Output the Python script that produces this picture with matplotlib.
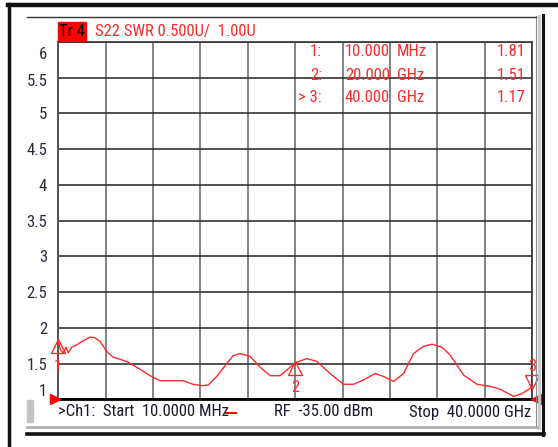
import numpy as np
import matplotlib
matplotlib.use('Agg')
import matplotlib.pyplot as plt
from matplotlib import font_manager
from matplotlib.lines import Line2D
from matplotlib.patches import Rectangle
import matplotlib.transforms as mtrans

freq_ghz = [0.01, 0.20, 0.43, 0.66, 0.85, 1.14, 1.56, 2.12, 2.69, 3.11, 3.53, 4.10, 4.63,
            5.23, 5.90, 6.91, 7.76, 8.60, 9.70, 10.54, 11.39, 12.12, 12.66, 13.39, 14.23,
            14.77, 15.36, 16.20, 17.05, 17.90, 18.74, 19.44, 20.00, 20.99, 21.84, 22.96,
            24.08, 24.93, 25.77, 26.76, 27.46, 28.31, 29.15, 30.00, 30.84, 31.55, 32.39,
            33.09, 34.22, 35.35, 36.48, 37.32, 38.45, 39.15, 40.00]
swr = [1.81, 1.69, 1.65, 1.73, 1.65, 1.73, 1.76, 1.82, 1.87, 1.86, 1.81, 1.67, 1.59,
       1.56, 1.52, 1.42, 1.33, 1.26, 1.26, 1.26, 1.21, 1.19, 1.20, 1.32, 1.50,
       1.61, 1.64, 1.60, 1.45, 1.33, 1.33, 1.43, 1.51, 1.57, 1.53, 1.36,
       1.21, 1.21, 1.27, 1.36, 1.32, 1.25, 1.36, 1.64, 1.74, 1.77, 1.73,
       1.62, 1.34, 1.21, 1.18, 1.14, 1.04, 1.08, 1.17]

yticks = [1, 1.5, 2, 2.5, 3, 3.5, 4, 4.5, 5, 5.5, 6]
ytick_labels = ['1', '1.5', '2', '2.5', '3', '3.5', '4', '4.5', '5', '5.5', '6']

marker_ids = ['1', '2', '3']
marker_freq = [0.01, 20.0, 40.0]
marker_swr = [1.81, 1.51, 1.17]
marker_rows = [('1:', '10.000', 'MHz', '1.81'),
               ('2:', '20.000', 'GHz', '1.51'),
               ('> 3:', '40.000', 'GHz', '1.17')]

# pick a narrow sans font if one is installed (screen font is Arial Narrow like)
installed = {f.name for f in font_manager.fontManager.ttflist}
narrow = [n for n in ['Liberation Sans Narrow', 'Roboto Condensed', 'DejaVu Sans Condensed',
                      'Open Sans Condensed'] if n in installed]
if narrow:
    plt.rcParams['font.family'] = [narrow[0], 'DejaVu Sans']
    FS = 12
    if narrow[0] == 'DejaVu Sans Condensed':
        FS = 11
else:
    plt.rcParams['font.family'] = ['Liberation Sans', 'DejaVu Sans']
    FS = 10.5

W, H = 558, 447
fig = plt.figure(figsize=(W / 100, H / 100), dpi=100)
fig.patch.set_facecolor('white')


def fx(x):
    return x / W


def fy(y):
    return 1 - y / H


def hline(y, x0, x1, color, lw):
    fig.add_artist(Line2D([fx(x0), fx(x1)], [fy(y), fy(y)], color=color, lw=lw,
                          transform=fig.transFigure))


def vline(x, y0, y1, color, lw):
    fig.add_artist(Line2D([fx(x), fx(x)], [fy(y0), fy(y1)], color=color, lw=lw,
                          transform=fig.transFigure))


# outer frame
hline(5, 8, 556, '#111111', 3.2)
vline(8.5, 4, 447, '#111111', 2.5)
vline(543, 15, 435, '#111111', 2.2)
vline(538.5, 16, 428, '#c8c8c8', 2.0)
vline(536, 16, 428, '#888888', 0.8)
hline(17, 27, 536, '#333333', 1.0)
hline(427, 27, 537, '#b0b0b0', 2.0)
hline(433.5, 27, 544, '#111111', 2.6)
fig.add_artist(Rectangle((fx(27), fy(422)), fx(6), 22 / H, color='#c4c4c4',
                         transform=fig.transFigure))

# plot area
left, right, top, bottom = 58.3, 532, 42, 399.3
ax = fig.add_axes([fx(left), fy(bottom), (right - left) / W, (bottom - top) / H])
ax.set_xlim(0.01, 40.0)
ax.set_ylim(1, 6)

xgrid = np.linspace(0.01, 40.0, 11)
ax.set_xticks(xgrid)
ax.set_xticklabels([])
ax.tick_params(axis='x', length=0)
ax.set_yticks(yticks)
ax.set_yticklabels(ytick_labels, fontsize=FS, color='#2a2a3a')
ax.tick_params(axis='y', length=0, pad=8)
for lbl, val in zip(ax.get_yticklabels(), yticks):
    if val == 1:
        lbl.set_transform(lbl.get_transform() + mtrans.ScaledTranslation(0, 9 / 100, fig.dpi_scale_trans))
    elif val == 6:
        lbl.set_transform(lbl.get_transform() + mtrans.ScaledTranslation(0, -11 / 100, fig.dpi_scale_trans))
    elif val == 5.5:
        lbl.set_transform(lbl.get_transform() + mtrans.ScaledTranslation(0, -2 / 100, fig.dpi_scale_trans))

ax.grid(True, axis='x', color='#6e6e6e', lw=1.2)
ax.grid(True, axis='y', color='#333333', lw=1.2)
for side in ['top', 'right']:
    ax.spines[side].set_color('#333333')
    ax.spines[side].set_linewidth(1.2)
ax.spines['left'].set_color('#555555')
ax.spines['left'].set_linewidth(1.4)
ax.spines['bottom'].set_color('#000000')
ax.spines['bottom'].set_linewidth(2.0)

ax.plot(freq_ghz, swr, color='#ff2a2a', lw=1.0, clip_on=False, zorder=5)

# markers
for mid, mf, mv in zip(marker_ids, marker_freq, marker_swr):
    if mid == '3':
        ax.plot(mf, mv, marker='v', ms=10, mfc='none', mec='#ff2a2a', mew=1.0,
                clip_on=False, zorder=6,
                transform=ax.transData + mtrans.ScaledTranslation(0, 5 / 100, fig.dpi_scale_trans))
        ax.annotate(mid, (mf, mv), xytext=(0, 15), textcoords='offset points', ha='center',
                    va='center', color='#ff2a2a', fontsize=FS, annotation_clip=False)
    else:
        ax.plot(mf, mv, marker='^', ms=10, mfc='none', mec='#ff2a2a', mew=1.0,
                clip_on=False, zorder=6,
                transform=ax.transData + mtrans.ScaledTranslation(0, -5 / 100, fig.dpi_scale_trans))
        ax.annotate(mid, (mf, mv), xytext=(0, -18), textcoords='offset points', ha='center',
                    va='center', color='#ff2a2a', fontsize=FS, annotation_clip=False)

# reference level arrows
ax.plot(0.01, 1, marker='>', ms=7, color='#ff0000', clip_on=False, zorder=7,
        transform=ax.transData + mtrans.ScaledTranslation(-3 / 100, 0, fig.dpi_scale_trans))
ax.plot(40.0, 1, marker='<', ms=7, color='#ff0000', clip_on=False, zorder=7,
        transform=ax.transData + mtrans.ScaledTranslation(4 / 100, 0, fig.dpi_scale_trans))

# header
fig.add_artist(Rectangle((fx(58), fy(41)), fx(28), 19 / H, color='#ff0000',
                         transform=fig.transFigure))
fig.text(fx(72), fy(31.5), 'Tr 4', fontsize=FS, color='#000000', va='center', ha='center')
fig.text(fx(95), fy(31.5), 'S22 SWR 0.500U/  1.00U', fontsize=FS, color='#ff2a2a', va='center')

# marker table
row_y = [52, 75, 98]
for (lab, num, unit, val), yy in zip(marker_rows, row_y):
    fig.text(fx(322), fy(yy), lab, fontsize=FS, color='#ff2a2a', ha='right', va='center')
    fig.text(fx(390), fy(yy), num, fontsize=FS, color='#ff2a2a', ha='right', va='center')
    fig.text(fx(397), fy(yy), unit, fontsize=FS, color='#ff2a2a', ha='left', va='center')
    fig.text(fx(526), fy(yy), val, fontsize=FS, color='#ff2a2a', ha='right', va='center')

# footer
fig.text(fx(58), fy(412), '>Ch1:  Start  10.0000 MHz', fontsize=FS, color='#1a1a2e', va='center')
hline(413, 226, 236, '#ff0000', 1.5)
fig.text(fx(274), fy(412), 'RF  -35.00 dBm', fontsize=FS, color='#1a1a2e', va='center')
fig.text(fx(531), fy(412), 'Stop  40.0000 GHz', fontsize=FS, color='#1a1a2e', va='center', ha='right')

fig.savefig('out.png', dpi=100)
